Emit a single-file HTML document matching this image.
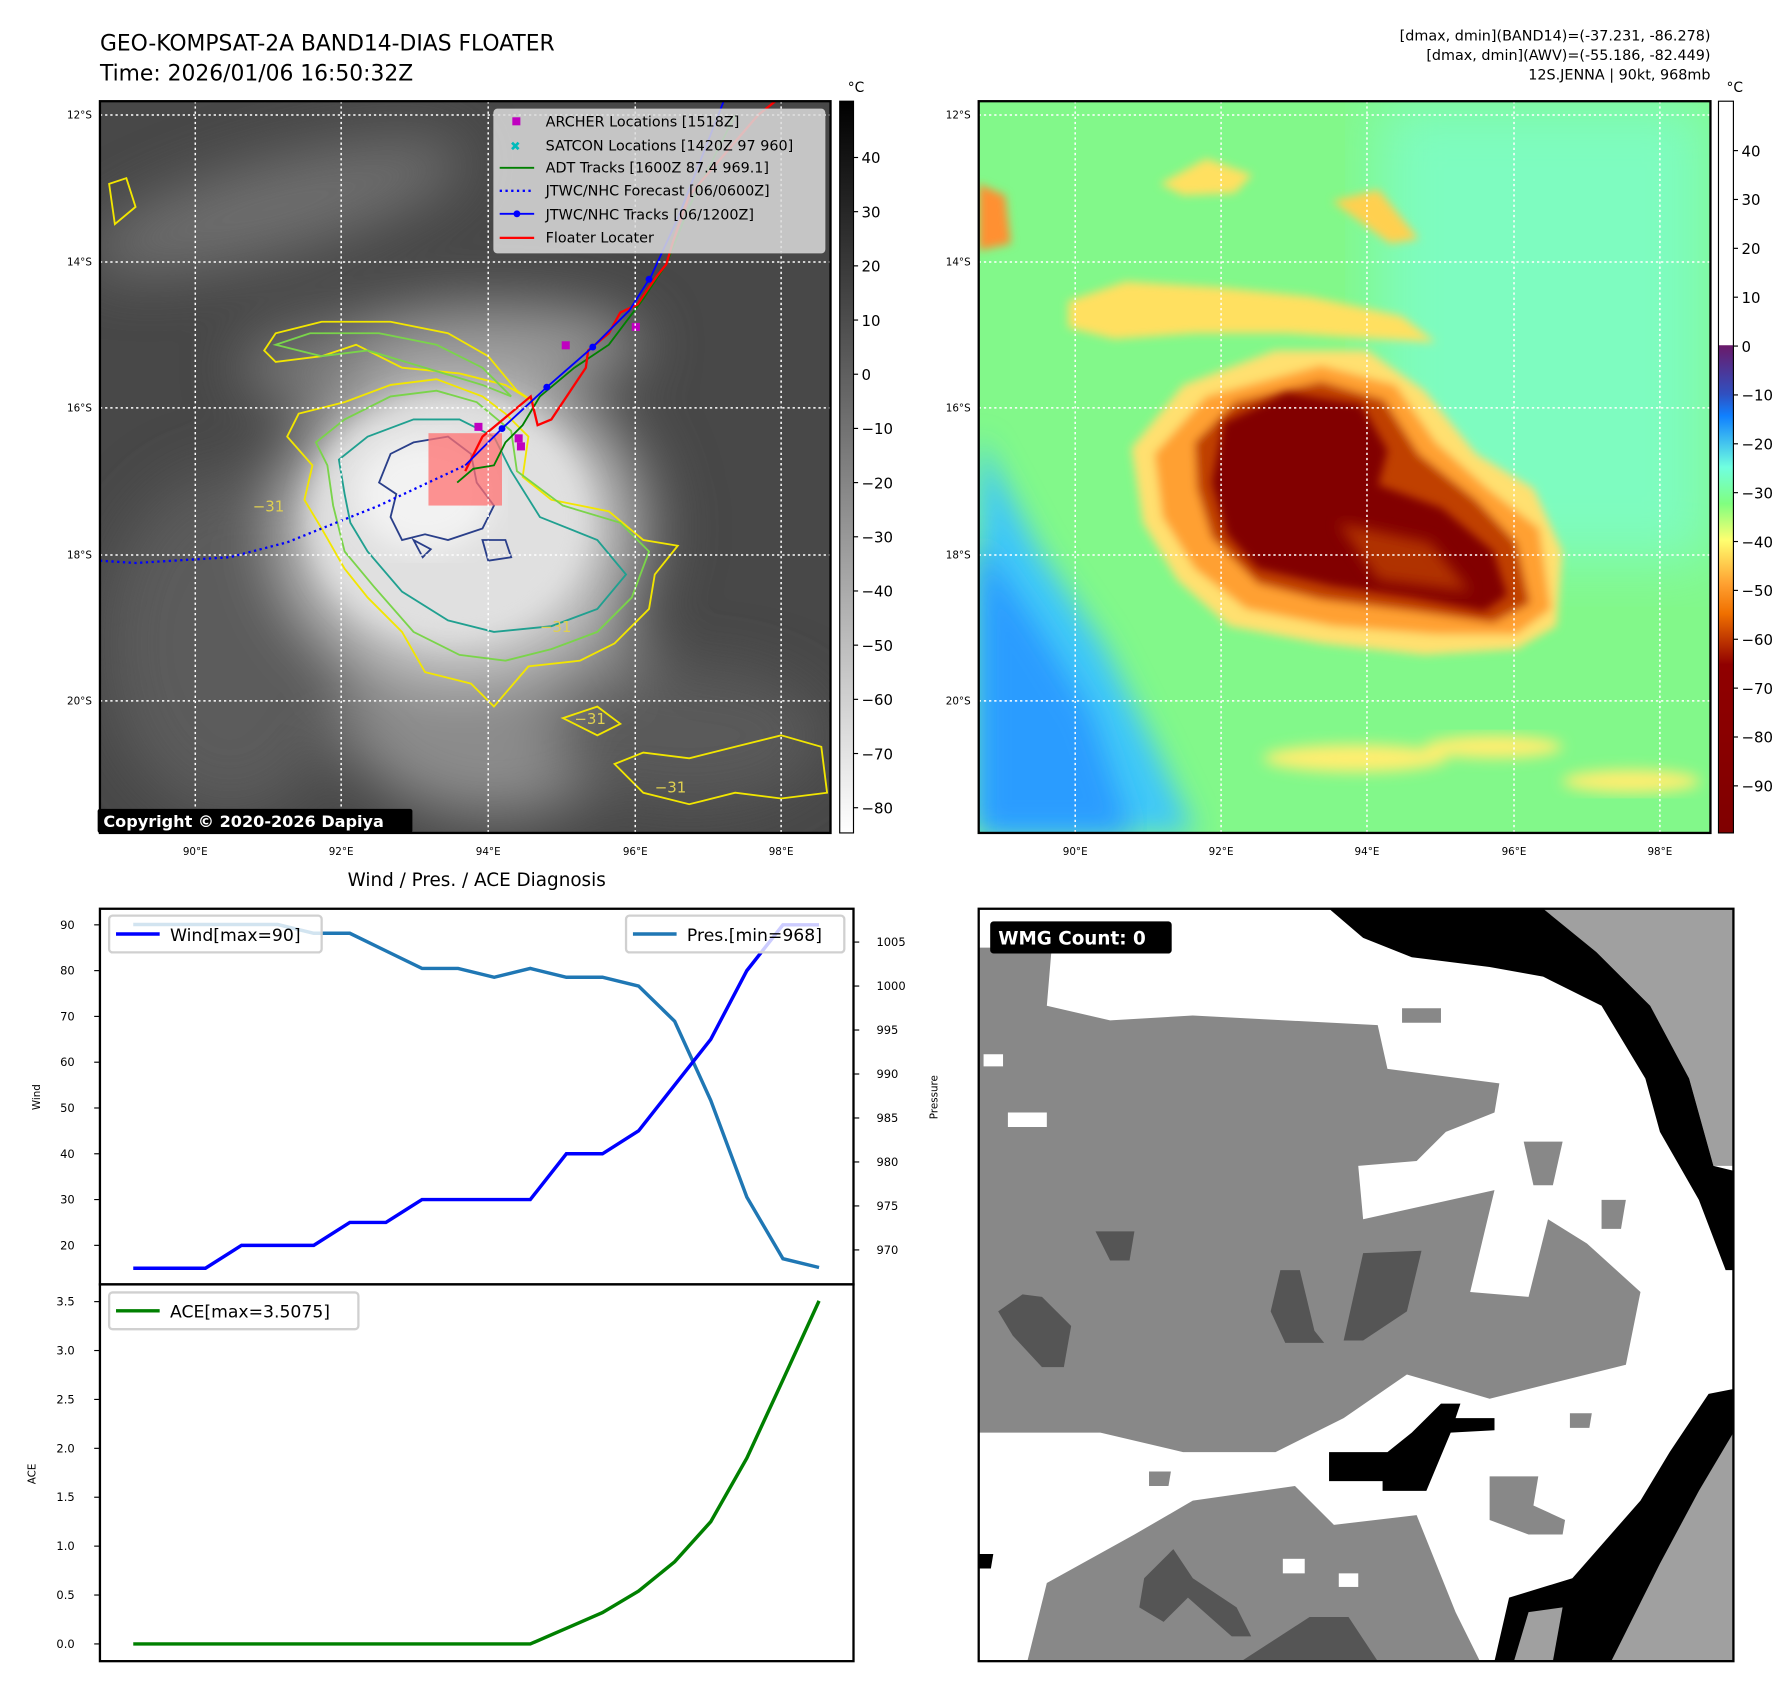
<!DOCTYPE html>
<html><head><meta charset="utf-8"><style>
html,body{margin:0;padding:0;background:#fff}
svg{display:block;font-family:"DejaVu Sans","Liberation Sans",sans-serif}
</style></head><body>
<svg id="root" width="1792" height="1690" viewBox="0 0 1560 1471" xmlns="http://www.w3.org/2000/svg">
<defs>
<clipPath id="cl"><rect x="87" y="88" width="636" height="637"/></clipPath>
<clipPath id="cr"><rect x="852" y="88" width="637" height="637"/></clipPath>
<filter id="b4"><feGaussianBlur stdDeviation="4"/></filter>
<filter id="b6"><feGaussianBlur stdDeviation="6"/></filter>
<filter id="b12"><feGaussianBlur stdDeviation="12"/></filter>
<filter id="b25"><feGaussianBlur stdDeviation="25"/></filter>
<radialGradient id="storm" cx="0.5" cy="0.5" r="0.5">
<stop offset="0" stop-color="#f4f4f4"/><stop offset="0.45" stop-color="#e2e2e2"/><stop offset="0.75" stop-color="#b8b8b8"/><stop offset="1" stop-color="#5a5a5a" stop-opacity="0"/></radialGradient>
<linearGradient id="cbL" x1="0" y1="1" x2="0" y2="0"><stop offset="0" stop-color="#fff"/><stop offset="1" stop-color="#000"/></linearGradient>
<linearGradient id="cbR" x1="0" y1="0" x2="0" y2="1">
<stop offset="0" stop-color="#fff"/><stop offset="0.333" stop-color="#fff"/><stop offset="0.334" stop-color="#6a1a6a"/>
<stop offset="0.4" stop-color="#3050c0"/><stop offset="0.43" stop-color="#1080ff"/><stop offset="0.5" stop-color="#70ffe0"/>
<stop offset="0.55" stop-color="#80ff80"/><stop offset="0.6" stop-color="#ffff70"/><stop offset="0.66" stop-color="#ffa030"/>
<stop offset="0.7" stop-color="#f07000"/><stop offset="0.77" stop-color="#900000"/><stop offset="1" stop-color="#800000"/></linearGradient>
</defs>

<text x="87" y="44" font-size="19">GEO-KOMPSAT-2A BAND14-DIAS FLOATER</text>
<text x="87" y="70" font-size="19">Time: 2026/01/06 16:50:32Z</text>
<g font-size="12.5" text-anchor="end">
<text x="1489" y="35">[dmax, dmin](BAND14)=(-37.231, -86.278)</text>
<text x="1489" y="52">[dmax, dmin](AWV)=(-55.186, -82.449)</text>
<text x="1489" y="69">12S.JENNA | 90kt, 968mb</text></g>

<g clip-path="url(#cl)">
<rect x="87" y="88" width="636" height="637" fill="#484848"/>
<g filter="url(#b25)">
<ellipse cx="240" cy="180" rx="170" ry="40" fill="#6e6e6e" transform="rotate(-15 240 180)"/>
<ellipse cx="330" cy="320" rx="120" ry="40" fill="#7a7a7a"/>
<ellipse cx="430" cy="600" rx="140" ry="110" fill="#8c8c8c"/>
<ellipse cx="200" cy="560" rx="110" ry="150" fill="#5c5c5c"/>
<ellipse cx="600" cy="640" rx="120" ry="60" fill="#5a5a5a"/>
<ellipse cx="400" cy="460" rx="190" ry="170" fill="url(#storm)"/>
<ellipse cx="430" cy="300" rx="130" ry="35" fill="#9a9a9a"/>
</g>
<ellipse cx="390" cy="450" rx="120" ry="105" fill="#e0e0e0" filter="url(#b12)"/>
<ellipse cx="370" cy="430" rx="60" ry="50" fill="#f2f2f2" filter="url(#b12)"/>
<g fill="none" stroke-width="1.6">
<path stroke="#f2e600" d="M272,405 L250,380 L260,360 L300,350 L340,335 L380,330 L420,345 L440,360 L460,380 L455,415 L480,435 L530,445 L560,470 L590,475 L570,500 L565,530 L535,560 L505,575 L460,580 L430,615 L410,595 L370,585 L350,550 L320,520 L300,495 L280,460 L265,435 Z"/>
<path stroke="#f2e600" d="M230,305 L240,290 L280,280 L340,280 L390,290 L425,310 L450,340 L465,350 L440,335 L400,325 L350,320 L310,300 L280,310 L240,315 Z"/>
<path stroke="#f2e600" d="M535,665 L560,655 L600,660 L640,650 L680,640 L715,650 L720,690 L680,695 L640,690 L600,700 L560,690 Z"/>
<path stroke="#f2e600" d="M490,625 L520,615 L540,630 L520,640 Z M95,160 L110,155 L118,180 L100,195 Z"/>
<path stroke="#7ad44a" d="M285,405 L275,385 L300,365 L340,345 L380,340 L415,350 L445,375 L450,410 L490,440 L540,455 L565,480 L550,520 L520,550 L480,565 L440,575 L400,570 L360,550 L325,510 L300,480 L290,440 Z"/>
<path stroke="#7ad44a" d="M240,300 L270,290 L330,290 L380,300 L420,320 L445,345 L420,335 L370,320 L320,305 L280,310 Z"/>
<path stroke="#20a090" d="M300,430 L295,400 L320,380 L360,365 L400,365 L430,380 L445,410 L470,450 L520,470 L545,500 L520,530 L480,545 L430,550 L390,540 L350,515 L320,480 L305,455 Z"/>
<path stroke="#2a3f8a" d="M330,420 L340,395 L360,385 L390,380 L410,395 L415,420 L430,440 L420,460 L390,470 L370,465 L350,470 L340,450 L345,430 Z"/>
<path stroke="#2a3f8a" d="M420,470 L440,470 L445,485 L425,488 Z M360,470 L375,478 L368,485 Z"/>
</g>
<g fill="#e0d050" font-size="13"><text x="220" y="445">−31</text><text x="470" y="550">−31</text><text x="500" y="630">−31</text><text x="570" y="690">−31</text></g>
<rect x="373" y="377" width="64" height="63" fill="#ff7070" fill-opacity="0.75"/>
<polyline fill="none" stroke="#0000ff" stroke-width="2" stroke-dasharray="2,3" points="87,488 118,490 200,485 250,472 330,440 405,405"/>
<polyline fill="none" stroke="#008000" stroke-width="1.6" points="398,420 412,408 430,405 440,385 455,370 470,345 500,320 530,300 560,260 580,230 600,180 640,100"/>
<polyline fill="none" stroke="#ff0000" stroke-width="2" points="405,410 420,380 462,345 468,370 480,365 510,320 512,305 530,290 540,272 555,265 565,250 572,240 580,230 586,210 600,170 660,100 675,88"/>
<polyline fill="none" stroke="#0000ff" stroke-width="1.6" points="405,405 437,373 476,337 516,302 548,270 567,240 590,190 630,88"/>
<g fill="#0000ff"><circle cx="437" cy="373" r="3"/><circle cx="476" cy="337" r="3"/><circle cx="516" cy="302" r="3"/><circle cx="565" cy="243" r="3"/></g>
<g fill="#c000c0"><rect x="413" y="368" width="7" height="7"/><rect x="448" y="378" width="7" height="7"/><rect x="450" y="385" width="7" height="7"/><rect x="489" y="297" width="7" height="7"/><rect x="550" y="281" width="7" height="7"/></g>
<g stroke="#ffffff" stroke-width="1.3" stroke-dasharray="2,2.5" fill="none">
<line x1="170" y1="88" x2="170" y2="725"/><line x1="297" y1="88" x2="297" y2="725"/><line x1="425" y1="88" x2="425" y2="725"/><line x1="553" y1="88" x2="553" y2="725"/><line x1="680" y1="88" x2="680" y2="725"/>
<line x1="87" y1="100" x2="723" y2="100"/><line x1="87" y1="228" x2="723" y2="228"/><line x1="87" y1="355" x2="723" y2="355"/><line x1="87" y1="483" x2="723" y2="483"/><line x1="87" y1="610" x2="723" y2="610"/></g>
</g>
<rect x="87" y="88" width="636" height="637" fill="none" stroke="#000" stroke-width="2"/>
<g>
<rect x="430" y="95" width="288" height="125" rx="3" fill="#dcdcdc" fill-opacity="0.85" stroke="#c8c8c8"/>
<g font-size="12.5" fill="#000">
<rect x="446" y="102" width="7" height="7" fill="#c000c0"/><text x="475" y="110">ARCHER Locations [1518Z]</text>
<text x="444" y="131" fill="#00bbbb" font-size="11">✖</text><text x="475" y="131">SATCON Locations [1420Z 97 960]</text>
<line x1="435" y1="146" x2="465" y2="146" stroke="#008000" stroke-width="1.6"/><text x="475" y="150">ADT Tracks [1600Z 87.4 969.1]</text>
<line x1="435" y1="166" x2="465" y2="166" stroke="#0000ff" stroke-width="2" stroke-dasharray="2,3"/><text x="475" y="170">JTWC/NHC Forecast [06/0600Z]</text>
<line x1="435" y1="186" x2="465" y2="186" stroke="#0000ff" stroke-width="1.6"/><circle cx="450" cy="186" r="3" fill="#0000ff"/><text x="475" y="191">JTWC/NHC Tracks [06/1200Z]</text>
<line x1="435" y1="207" x2="465" y2="207" stroke="#ff0000" stroke-width="2"/><text x="475" y="211">Floater Locater</text></g></g>
<g><rect x="85" y="704" width="274" height="21" rx="2" fill="#000"/><text x="90" y="720" font-size="14" font-weight="bold" fill="#fff">Copyright © 2020-2026 Dapiya</text></g>
<g font-size="9">
<g text-anchor="middle"><text x="170" y="744">90°E</text><text x="297" y="744">92°E</text><text x="425" y="744">94°E</text><text x="553" y="744">96°E</text><text x="680" y="744">98°E</text></g>
<g text-anchor="end"><text x="80" y="103">12°S</text><text x="80" y="231">14°S</text><text x="80" y="358">16°S</text><text x="80" y="486">18°S</text><text x="80" y="613">20°S</text></g></g>
<g>
<rect x="731" y="88" width="12" height="637" fill="url(#cbL)" stroke="#000"/>
<text x="738" y="80" font-size="12">°C</text>
<g font-size="13" id="cbLticks"></g></g>

<g clip-path="url(#cr)">
<rect x="852" y="88" width="637" height="637" fill="#82f88a"/>
<rect x="1200" y="88" width="289" height="400" fill="#7efcc0" filter="url(#b25)"/>
<polygon points="852,380 905,480 960,560 1005,650 1040,725 852,725" fill="#40c8f8" filter="url(#b12)"/>
<polygon points="852,470 900,540 950,620 985,725 852,725" fill="#2a9cff" filter="url(#b12)"/>
<g filter="url(#b4)">
<polygon points="930,262 980,245 1060,250 1140,258 1220,275 1250,298 1200,295 1120,290 1040,290 970,295 930,285" fill="#ffe060"/>
<polygon points="1010,160 1050,138 1090,152 1075,168 1030,170" fill="#ffe060"/>
<polygon points="1160,175 1200,165 1235,208 1210,212" fill="#ffd050"/>
<polygon points="852,160 875,170 880,212 852,218" fill="#ff9030"/>
<polygon points="985,390 1030,335 1110,305 1190,305 1240,340 1285,395 1335,425 1360,480 1355,545 1320,565 1240,570 1150,560 1070,545 1025,505 995,455" fill="#ffe070"/>
<polygon points="1005,395 1050,345 1150,318 1215,335 1250,385 1295,425 1340,460 1350,530 1320,552 1250,552 1160,545 1085,530 1040,495 1012,450" fill="#ffa030"/>
<polygon points="1040,385 1075,350 1150,332 1205,348 1235,395 1285,435 1320,472 1332,525 1300,542 1230,532 1150,522 1095,508 1055,468 1042,425" fill="#c04000"/>
</g>
<polygon filter="url(#b4)" points="1065,368 1120,342 1185,352 1208,392 1200,422 1255,442 1300,480 1312,518 1292,532 1230,520 1160,510 1095,495 1068,465 1055,420" fill="#820000"/>
<polygon points="1165,455 1245,472 1280,515 1200,505" fill="#b03000" filter="url(#b6)"/>
<g filter="url(#b6)" fill="#ffee70"><ellipse cx="1180" cy="660" rx="80" ry="12"/><ellipse cx="1300" cy="650" rx="60" ry="10"/><ellipse cx="1420" cy="680" rx="60" ry="10"/></g>
<g stroke="#ffffff" stroke-width="1.3" stroke-dasharray="2,2.5" fill="none">
<line x1="936" y1="88" x2="936" y2="725"/><line x1="1063" y1="88" x2="1063" y2="725"/><line x1="1190" y1="88" x2="1190" y2="725"/><line x1="1318" y1="88" x2="1318" y2="725"/><line x1="1445" y1="88" x2="1445" y2="725"/>
<line x1="852" y1="100" x2="1489" y2="100"/><line x1="852" y1="228" x2="1489" y2="228"/><line x1="852" y1="355" x2="1489" y2="355"/><line x1="852" y1="483" x2="1489" y2="483"/><line x1="852" y1="610" x2="1489" y2="610"/></g>
</g>
<rect x="852" y="88" width="637" height="637" fill="none" stroke="#000" stroke-width="2"/>
<g font-size="9">
<g text-anchor="middle"><text x="936" y="744">90°E</text><text x="1063" y="744">92°E</text><text x="1190" y="744">94°E</text><text x="1318" y="744">96°E</text><text x="1445" y="744">98°E</text></g>
<g text-anchor="end"><text x="845" y="103">12°S</text><text x="845" y="231">14°S</text><text x="845" y="358">16°S</text><text x="845" y="486">18°S</text><text x="845" y="613">20°S</text></g></g>
<g>
<rect x="1496" y="88" width="13" height="637" fill="url(#cbR)" stroke="#000"/>
<text x="1503" y="80" font-size="12">°C</text>
<g font-size="13" id="cbRticks"></g></g>

<g>
<svg x="852" y="791" width="657" height="655" viewBox="0 0 1551 1551" preserveAspectRatio="none">
<rect width="1551" height="1551" fill="#fff"/>
<polygon fill="#888" points="0,80 150,80 140,200 270,230 440,220 820,240 840,330 1070,360 1060,420 960,460 900,520 780,530 790,640 1060,580 1010,790 1130,800 1170,640 1250,690 1360,790 1330,940 1050,1010 880,960 750,1050 610,1120 420,1120 250,1080 0,1080"/>
<polygon fill="#fff" points="10,300 50,300 50,325 10,325"/><polygon fill="#fff" points="60,420 140,420 140,450 60,450"/>
<polygon fill="#888" points="100,1551 140,1390 320,1290 440,1220 650,1190 730,1270 900,1250 980,1450 1030,1551"/>
<polygon fill="#a0a0a0" points="1110,0 1551,0 1551,530 1510,530 1460,350 1380,200 1270,90 1120,40"/>
<polygon fill="#000" points="720,0 1160,0 1270,90 1380,200 1460,350 1510,530 1551,540 1551,745 1535,745 1480,600 1400,460 1370,350 1280,200 1160,140 1050,120 890,100 790,60"/>
<polygon fill="#000" points="1060,1551 1090,1420 1220,1380 1360,1220 1420,1120 1500,1000 1551,990 1551,1551"/>
<polygon fill="#a0a0a0" points="1300,1551 1400,1350 1480,1200 1551,1080 1551,1551"/>
<polygon fill="#a0a0a0" points="1100,1551 1130,1450 1200,1440 1180,1551"/>
<polygon fill="#000" points="720,1120 840,1120 890,1080 950,1020 990,1020 980,1050 1060,1050 1060,1075 970,1080 920,1200 830,1200 830,1180 720,1180"/>
<polygon fill="#000" points="0,1330 30,1330 25,1360 0,1360"/>
<g fill="#555">
<polygon points="790,710 910,705 880,830 790,890 750,890"/>
<polygon points="620,745 660,745 690,870 710,895 630,895 600,830"/>
<polygon points="40,830 90,795 130,800 190,860 175,945 130,945 70,880"/>
<polygon points="240,665 320,665 310,725 270,725"/>
<polygon points="340,1380 400,1320 440,1380 530,1440 560,1500 520,1500 430,1420 380,1470 330,1440"/>
<polygon points="540,1551 680,1460 760,1460 820,1551"/></g>
<g fill="#888">
<polygon points="1120,480 1200,480 1180,570 1140,570"/><polygon points="1280,600 1330,600 1320,660 1280,660"/>
<polygon points="1050,1170 1150,1170 1140,1230 1205,1260 1200,1290 1130,1290 1050,1260"/>
<polygon points="870,205 950,205 950,235 870,235"/><polygon points="1215,1040 1260,1040 1255,1070 1215,1070"/><polygon points="350,1160 395,1160 390,1190 350,1190"/></g>
<g fill="#fff"><rect x="625" y="1340" width="45" height="30"/><rect x="740" y="1370" width="40" height="28"/></g>
</svg>
<rect x="852" y="791" width="657" height="655" fill="none" stroke="#000" stroke-width="2"/>
<rect x="862" y="802" width="158" height="28" rx="3" fill="#000"/>
<text x="869" y="822" font-size="16" font-weight="bold" fill="#fff">WMG Count: 0</text></g>

<text x="415" y="771" font-size="16" text-anchor="middle">Wind / Pres. / ACE Diagnosis</text>
<g id="chart"></g>
</svg>
<script>
const windVals = [15,15,15,20,20,20,25,25,30,30,30,30,40,40,45,55,65,80,90,90];
const presVals = [1007,1007,1007,1007,1007,1006,1006,1004,1002,1002,1001,1002,1001,1001,1000,996,987,976,969,968];
const aceVals = [0,0,0,0,0,0,0,0,0,0,0,0,0.16,0.32,0.54,0.84,1.25,1.9,2.7,3.5075];
const windTicks = [20,30,40,50,60,70,80,90];
const presTicks = [970,975,980,985,990,995,1000,1005];
const aceTicks = [0,0.5,1.0,1.5,2.0,2.5,3.0,3.5];
const cbLTicks = [40,30,20,10,0,-10,-20,-30,-40,-50,-60,-70,-80];
const cbRTicks = [40,30,20,10,0,-10,-20,-30,-40,-50,-60,-70,-80,-90];

const NS='http://www.w3.org/2000/svg';
function mk(tag, attrs, parent){const e=document.createElementNS(NS,tag);for(const k in attrs)e.setAttribute(k,attrs[k]);parent.appendChild(e);return e;}
const xi = i => 116 + i*(597/(windVals.length-1));
const yW = v => 805 + (90-v)*3.986;
const yP = p => 820 + (1005-p)*7.657;
const yA = a => 1431 - a*85.14;
const fmt = v => v<0 ? '\u2212'+Math.abs(v) : ''+v;

const cbL=document.getElementById('cbLticks');
cbLTicks.forEach(t=>{const y=137+(40-t)*4.717;
 mk('line',{x1:743,y1:y,x2:747,y2:y,stroke:'#000'},cbL);
 const tx=mk('text',{x:750,y:y+5},cbL);tx.textContent=fmt(t);
 
 });
const cbR=document.getElementById('cbRticks');
cbRTicks.forEach(t=>{const y=131+(40-t)*4.254;
 mk('line',{x1:1509,y1:y,x2:1513,y2:y,stroke:'#000'},cbR);
 const tx=mk('text',{x:1516,y:y+5},cbR);tx.textContent=fmt(t);
 
 });

const g=document.getElementById('chart');
mk('rect',{x:87,y:791,width:656,height:327,fill:'none',stroke:'#000','stroke-width':2},g);
mk('rect',{x:87,y:1118,width:656,height:328,fill:'none',stroke:'#000','stroke-width':2},g);
windTicks.forEach(t=>{const y=yW(t);mk('line',{x1:82,y1:y,x2:87,y2:y,stroke:'#000'},g);
 const tx=mk('text',{x:65,y:y+3.5,'font-size':10,'text-anchor':'end'},g);tx.textContent=t;
 
 });
presTicks.forEach(t=>{const y=yP(t);mk('line',{x1:743,y1:y,x2:748,y2:y,stroke:'#000'},g);
 const tx=mk('text',{x:763,y:y+3.5,'font-size':10},g);tx.textContent=t;
 
 });
aceTicks.forEach(t=>{const y=yA(t);mk('line',{x1:82,y1:y,x2:87,y2:y,stroke:'#000'},g);
 const tx=mk('text',{x:65,y:y+3.5,'font-size':10,'text-anchor':'end'},g);tx.textContent=t.toFixed(1);
 
 });
const lw=mk('text',{x:35,y:955,'font-size':9,'text-anchor':'middle',transform:'rotate(-90 35 955)'},g);lw.textContent='Wind';


const lp=mk('text',{x:816,y:955,'font-size':9,'text-anchor':'middle',transform:'rotate(-90 816 955)'},g);lp.textContent='Pressure';


const la=mk('text',{x:31,y:1283,'font-size':9,'text-anchor':'middle',transform:'rotate(-90 31 1283)'},g);la.textContent='ACE';



const lineP=mk('polyline',{points:presVals.map((v,i)=>xi(i)+','+yP(v)).join(' '),fill:'none',stroke:'#1f77b4','stroke-width':3},g);


const lineW=mk('polyline',{points:windVals.map((v,i)=>xi(i)+','+yW(v)).join(' '),fill:'none',stroke:'#0000ff','stroke-width':3},g);


const lineA=mk('polyline',{points:aceVals.map((v,i)=>xi(i)+','+yA(v)).join(' '),fill:'none',stroke:'#008000','stroke-width':3},g);



function legend(x,y,w,color,label,name){
 const lg=mk('g',{},g);
 
 
 mk('rect',{x:x,y:y,width:w,height:32,rx:3,fill:'#fff','fill-opacity':0.8,stroke:'#d0d0d0','stroke-width':2},lg);
 mk('line',{x1:x+6,y1:y+16,x2:x+44,y2:y+16,stroke:color,'stroke-width':3},lg);
 const t=mk('text',{x:x+53,y:y+22,'font-size':15},lg);t.textContent=label;}
legend(95,797,185,'#0000ff','Wind[max='+Math.max(...windVals)+']','wind-legend');
legend(545,797,190,'#1f77b4','Pres.[min='+Math.min(...presVals)+']','pressure-legend');
legend(95,1125,217,'#008000','ACE[max='+Math.max(...aceVals)+']','ace-legend');
</script>
</body></html>
